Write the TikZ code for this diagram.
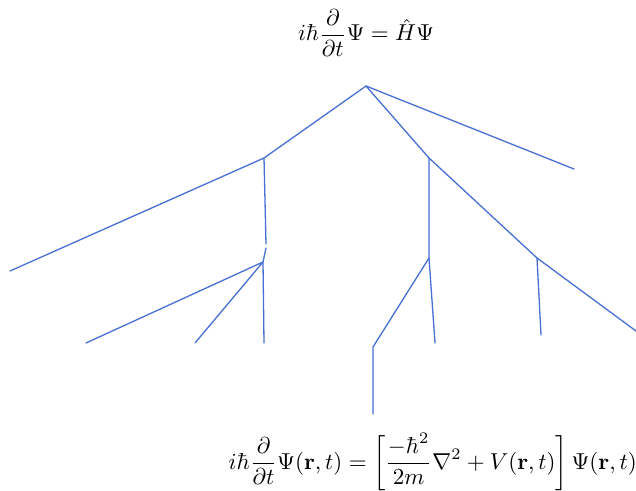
\documentclass[tikz,border=0pt]{standalone}
\usepackage{graphicx}
\usepackage{amsmath}
\definecolor{linec}{RGB}{70,112,212}
\tikzset{branch/.style={draw=linec,line width=1.3pt,line cap=round,line join=round},
  eqn/.style={inner sep=0pt}}
\begin{document}
\begin{tikzpicture}[x=1pt,y=-1pt]
\useasboundingbox (0,0) rectangle (636,490);
\fill[white] (0,0) rectangle (636,490);
\node[eqn] (top) at (366,33) {\scalebox{2.3}{$\displaystyle i\hbar\frac{\partial}{\partial t}\Psi=\hat{H}\Psi$}};
\node[eqn,anchor=east] (bot) at (637,462) {\scalebox{2.3}{$\displaystyle i\hbar\frac{\partial}{\partial t}\Psi(\mathbf{r},t)=\left[\frac{-\hbar^2}{2m}\nabla^2+V(\mathbf{r},t)\right]\Psi(\mathbf{r},t)$}};
\coordinate (R) at (366,86);
\coordinate (A) at (264,158);
\coordinate (B) at (429,158);
\coordinate (C) at (263,262);
\coordinate (D) at (537,258);
\coordinate (E) at (429,258);
\coordinate (r1) at (574,169);
\coordinate (a1) at (10,271);
\coordinate (a2) at (266,244);
\coordinate (a3) at (266,248);
\coordinate (c0) at (264,343);
\coordinate (c1) at (86,343);
\coordinate (c2) at (195,343);
\coordinate (d1) at (636,331);
\coordinate (d2) at (541,335);
\coordinate (e1) at (435,343);
\coordinate (e2) at (373,347);
\coordinate (e3) at (373,414);
\draw[branch] (A) -- (R) -- (r1);
\draw[branch] (R) -- (B) -- (D) -- (d1);
\draw[branch] (a1) -- (A) -- (a2);
\draw[branch] (a3) -- (C) -- (c0);
\draw[branch] (c1) -- (C) -- (c2);
\draw[branch] (B) -- (E) -- (e1);
\draw[branch] (E) -- (e2) -- (e3);
\draw[branch] (D) -- (d2);
\end{tikzpicture}
\end{document}
